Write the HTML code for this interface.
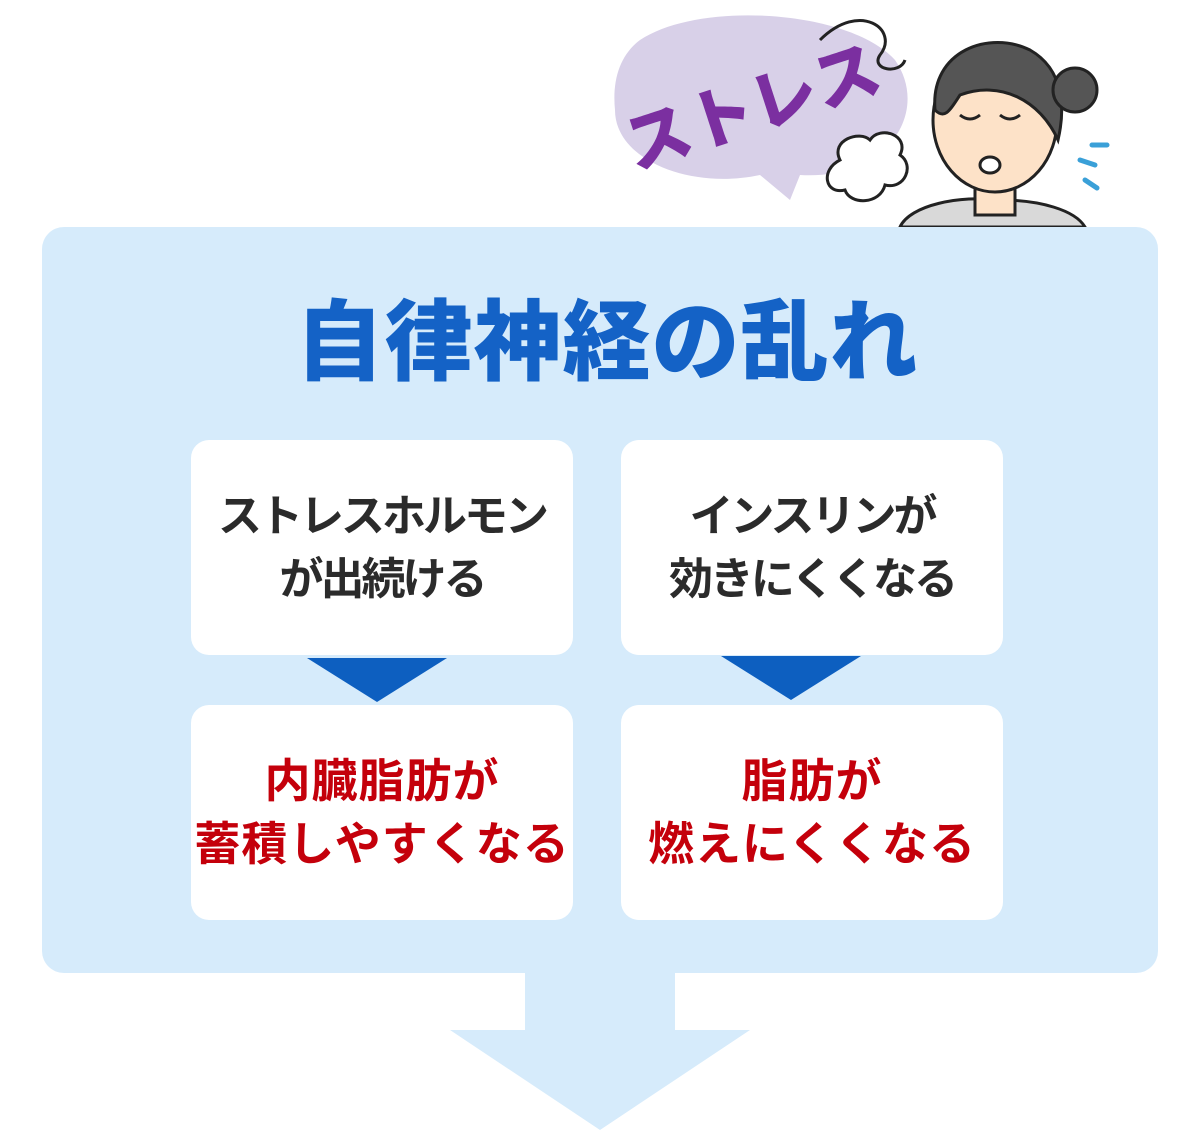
<!DOCTYPE html>
<html><head><meta charset="utf-8"><style>
html,body{margin:0;padding:0;background:#fff;}
body{width:1200px;height:1134px;position:relative;overflow:hidden;font-family:"Liberation Sans","Noto Sans CJK JP",sans-serif;}
.abs{position:absolute;}
.panel{left:42px;top:227px;width:1116px;height:746px;background:#d6ebfb;border-radius:22px;}
.box{background:#fff;border-radius:18px;width:382px;height:215px;display:flex;align-items:center;justify-content:center;text-align:center;font-weight:bold;}
.top{color:#2b2b2b;font-size:44px;line-height:63px;letter-spacing:-3px;}
.bot{color:#c4000b;font-size:46px;line-height:63px;letter-spacing:1px;}
.title{left:0;width:1214px;top:272px;text-align:center;font-size:88px;font-weight:900;color:#1462c6;letter-spacing:1px;}
</style></head><body>
<svg class="abs" style="left:0;top:0" width="1200" height="1134">
  <rect x="525" y="970" width="150" height="62" fill="#d6ebfb"/>
  <polygon points="450,1030 750,1030 600,1130" fill="#d6ebfb"/>
  <path d="M640,40 C700,0 850,10 895,60 C930,110 890,180 800,175 L790,200 L760,175 C690,190 615,160 615,110 C612,80 620,55 640,40Z" fill="#d8d0e8"/>
  <text x="755" y="130" text-anchor="middle" font-size="66" font-weight="900" fill="#7b2fa0" transform="rotate(-18 755 115)" font-family="Liberation Sans,Noto Sans CJK JP,sans-serif">ストレス</text>
  <path d="M820,40 C860,0 900,30 880,55 C870,70 900,75 905,60" fill="none" stroke="#222" stroke-width="3"/>
  <path d="M840,160 C830,140 860,130 870,140 C880,125 910,135 900,155 C915,165 905,190 885,185 C880,205 850,205 845,190 C825,195 820,170 840,160Z" fill="#fff" stroke="#222" stroke-width="3"/>
  <path d="M900,227 C910,205 960,195 1000,200 C1040,200 1075,210 1085,227Z" fill="#d9d9d9" stroke="#222" stroke-width="3"/>
  <rect x="975" y="175" width="40" height="40" fill="#fde2c8" stroke="#222" stroke-width="3"/>
  <ellipse cx="995" cy="120" rx="62" ry="72" fill="#fde2c8" stroke="#222" stroke-width="3"/>
  <path d="M935,110 C930,50 990,30 1030,50 C1065,70 1065,110 1058,140 C1040,100 1000,80 960,95 C950,110 945,120 935,110Z" fill="#555" stroke="#222" stroke-width="3"/>
  <circle cx="1075" cy="90" r="22" fill="#555" stroke="#222" stroke-width="3"/>
  <path d="M960,115 q10,8 20,0 M1000,115 q10,8 20,0" fill="none" stroke="#222" stroke-width="3"/>
  <ellipse cx="990" cy="165" rx="10" ry="8" fill="#fff" stroke="#222" stroke-width="3"/>
  <path d="M1080,160 l15,5 M1085,180 l12,8 M1092,145 l15,0" stroke="#3aa0d8" stroke-width="5" stroke-linecap="round"/>
</svg>
<div class="abs panel"></div>
<div class="abs title">自律神経の乱れ</div>
<svg class="abs" style="left:0;top:0" width="1200" height="1134">
  <polygon points="307,658 447,658 377,702" fill="#0d5fc0"/>
  <polygon points="721,656 861,656 791,700" fill="#0d5fc0"/>
</svg>
<div class="abs box top" style="left:191px;top:440px;">ストレスホルモン<br>が出続ける</div>
<div class="abs box top" style="left:621px;top:440px;">インスリンが<br>効きにくくなる</div>
<div class="abs box bot" style="left:191px;top:705px;">内臓脂肪が<br>蓄積しやすくなる</div>
<div class="abs box bot" style="left:621px;top:705px;">脂肪が<br>燃えにくくなる</div>
</body></html>
